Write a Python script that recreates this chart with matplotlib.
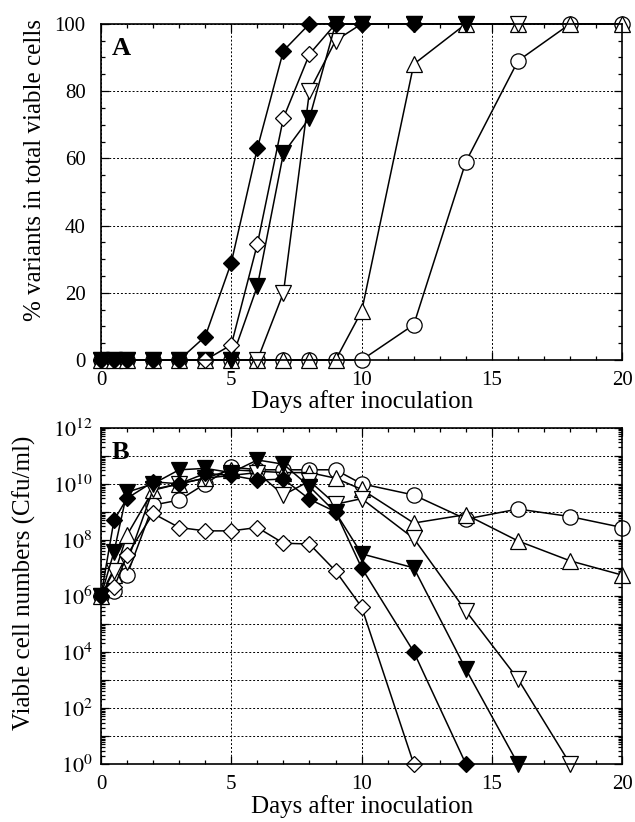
import numpy as np
import matplotlib
matplotlib.use("Agg")
import matplotlib.pyplot as plt
from matplotlib.ticker import MultipleLocator, LogLocator, FuncFormatter, NullFormatter

plt.rcParams['font.family'] = ['Liberation Serif', 'DejaVu Serif']
plt.rcParams['mathtext.fontset'] = 'stix'

# ======================
# DATA - panel A (% variants)
# ======================
days = [0, 0.5, 1, 2, 3, 4, 5, 6, 7, 8, 9, 10, 12, 14, 16, 18, 20]

a_fdiamond = [0, 0, 0, 0, 0, 7, 29, 63, 92, 100, 100, 100, 100]
a_odiamond = [0, 0, 0, 0, 0, 0, 4.5, 34.5, 72, 91, 100, 100]
a_fdown = [0, 0, 0, 0, 0, 0, 0, 22, 61.5, 72, 100, 100, 100, 100]
a_odown = [0, 0, 0, 0, 0, 0, 0, 0, 20, 80, 95, 100, 100, 100, 100]
a_oup = [0, 0, 0, 0, 0, 0, 0, 0, 0, 0, 0, 14.5, 88, 100, 100, 100, 100]
a_ocircle = [0, 0, 0, 0, 0, 0, 0, 0, 0, 0, 0, 0, 10.5, 59, 89, 100, 100]

# ======================
# DATA - panel B (log10 viable cells, Cfu/ml)
# ======================
b_odiamond = [6.0, 6.3, 7.45, 8.94, 8.44, 8.32, 8.32, 8.44, 7.88, 7.85, 6.89, 5.6, 0]
b_fdiamond = [6.0, 8.7, 9.48, 10.07, 10.0, 10.37, 10.3, 10.13, 10.17, 9.45, 9.0, 7.0, 4.0, 0]
b_fdown = [6.0, 7.57, 9.7, 10.0, 10.5, 10.55, 10.4, 10.85, 10.7, 9.9, 8.98, 7.5, 7.0, 3.38, 0]
b_odown = [6.0, 6.9, 7.2, 9.8, 10.0, 10.2, 10.3, 10.4, 9.6, 10.1, 9.27, 9.47, 8.05, 5.46, 3.03, 0]
b_oup = [6.0, 6.74, 8.17, 9.77, 10.0, 10.2, 10.5, 10.45, 10.4, 10.4, 10.2, 9.8, 8.6, 8.9, 7.96, 7.25, 6.74]
b_ocircle = [6.0, 6.18, 6.74, 9.24, 9.42, 10.0, 10.6, 10.5, 10.5, 10.5, 10.5, 10.0, 9.6, 8.74, 9.1, 8.83, 8.44]

# marker style per series: (marker, face, size)
styles = {
    'odiamond': ('D', 'white', 8.5),
    'fdiamond': ('D', 'black', 8.5),
    'fdown': ('v', 'black', 11),
    'odown': ('v', 'white', 11),
    'oup': ('^', 'white', 11),
    'ocircle': ('o', 'white', 11),
}

series_a = [('ocircle', a_ocircle), ('oup', a_oup), ('odown', a_odown),
            ('fdown', a_fdown), ('odiamond', a_odiamond), ('fdiamond', a_fdiamond)]
series_b = [('ocircle', b_ocircle), ('oup', b_oup), ('odown', b_odown),
            ('fdown', b_fdown), ('odiamond', b_odiamond), ('fdiamond', b_fdiamond)]

fig = plt.figure(figsize=(6.35, 8.22), dpi=100)
ax_a = fig.add_axes([0.159, 0.562, 0.821, 0.409])
ax_b = fig.add_axes([0.159, 0.0706, 0.821, 0.409])


def style_axis(ax):
    ax.tick_params(which='both', direction='in', top=True, right=True, labelsize=15, width=0.9)
    ax.tick_params(which='major', length=6)
    ax.tick_params(which='minor', length=3)
    for s in ax.spines.values():
        s.set_linewidth(1.2)
    ax.grid(True, which='major', linestyle=(0, (2, 2)), color='black', linewidth=0.7)
    ax.set_axisbelow(True)


# ======================
# PANEL A
# ======================
for key, vals in series_a:
    m, fc, ms = styles[key]
    ax_a.plot(days[:len(vals)], vals, marker=m, markerfacecolor=fc, markeredgecolor='black',
              markersize=ms, color='black', linewidth=1.1, markeredgewidth=0.9, clip_on=False)

ax_a.set_xlim(0, 20)
ax_a.set_ylim(0, 100)
ax_a.xaxis.set_major_locator(MultipleLocator(5))
ax_a.xaxis.set_minor_locator(MultipleLocator(1))
ax_a.yaxis.set_major_locator(MultipleLocator(20))
ax_a.yaxis.set_minor_locator(MultipleLocator(5))
style_axis(ax_a)
ax_a.tick_params(axis='y', which='both', pad=11)
ax_a.tick_params(axis='x', which='both', pad=8)
ax_a.set_xlabel("Days after inoculation", fontsize=18, labelpad=0)
ax_a.set_ylabel("% variants in total viable cells", fontsize=18)
ax_a.yaxis.set_label_coords(-0.105, 0.565)
ax_a.text(0.02, 0.96, "A", transform=ax_a.transAxes, fontsize=19, fontweight='bold',
          va='top', ha='left')

# ======================
# PANEL B
# ======================
for key, vals in series_b:
    m, fc, ms = styles[key]
    ax_b.plot(days[:len(vals)], 10.0 ** np.array(vals), marker=m, markerfacecolor=fc,
              markeredgecolor='black', markersize=ms, color='black', linewidth=1.1,
              markeredgewidth=0.9, clip_on=False)

ax_b.set_yscale('log')
ax_b.set_xlim(0, 20)
ax_b.set_ylim(1, 1e12)
ax_b.xaxis.set_major_locator(MultipleLocator(5))
ax_b.xaxis.set_minor_locator(MultipleLocator(1))
ax_b.yaxis.set_major_locator(LogLocator(base=10, numticks=20))
ax_b.yaxis.set_minor_locator(LogLocator(base=10, subs=np.arange(2, 10), numticks=20))
ax_b.yaxis.set_major_formatter(FuncFormatter(
    lambda v, p: r"$10^{%d}$" % round(np.log10(v)) if round(np.log10(v)) % 2 == 0 else ""))
ax_b.yaxis.set_minor_formatter(NullFormatter())
style_axis(ax_b)
ax_b.tick_params(axis='y', which='major', labelsize=16)
ax_b.tick_params(axis='y', which='both', pad=6)
ax_b.tick_params(axis='x', which='both', pad=8)
ax_b.set_xlabel("Days after inoculation", fontsize=18, labelpad=1)
ax_b.set_ylabel("Viable cell numbers (Cfu/ml)", fontsize=18)
ax_b.yaxis.set_label_coords(-0.125, 0.54)
ax_b.text(0.02, 0.96, "B", transform=ax_b.transAxes, fontsize=19, fontweight='bold',
          va='top', ha='left')

fig.savefig("out.png", dpi=100)
